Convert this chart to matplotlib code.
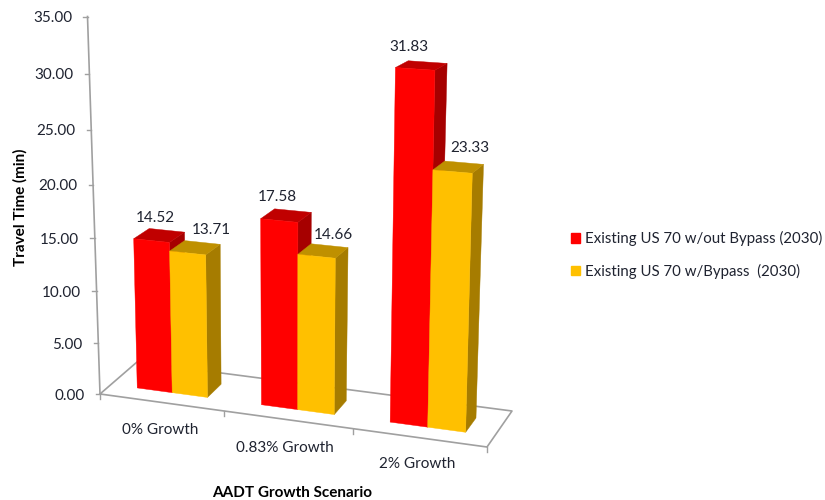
import numpy as np
import matplotlib
matplotlib.use("Agg")
import matplotlib.pyplot as plt
from matplotlib.patches import Polygon, Patch

# data
categories = ["0% Growth", "0.83% Growth", "2% Growth"]
series_names = ["Existing US 70 w/out Bypass (2030)", "Existing US 70 w/Bypass  (2030)"]
without_bypass = [14.52, 17.58, 31.83]
with_bypass = [13.71, 14.66, 23.33]
y_ticks = [0, 5, 10, 15, 20, 25, 30, 35]

# colours: front, top, side
red = ["#ff0000", "#c00000", "#a60000"]
yellow = ["#ffc000", "#bf9000", "#a67c00"]
grey = "#a0a0a0"
ink = "#1f2330"

# pixel position of the eight corners of the chart box
floor = {"fl": (100, 394), "bl": (137, 362), "fr": (487, 447), "br": (512, 411)}
roof = {"fl": (87.5, 16.5), "bl": (131.5, 1), "fr": (498, 41), "br": (526, 26)}
Y_MAX = 35.0
N = len(categories)


def bend(s, k):
    # small perspective correction
    return s / (s + (1 - s) * k)


def project(u, d, z):
    # u = position along categories, d = depth 0..1, z = value
    su = bend(u / N, 1.055)
    t = bend(z / Y_MAX, 1.07)
    out = []
    for i in range(2):
        low = (1 - d) * ((1 - su) * floor["fl"][i] + su * floor["fr"][i]) + d * ((1 - su) * floor["bl"][i] + su * floor["br"][i])
        high = (1 - d) * ((1 - su) * roof["fl"][i] + su * roof["fr"][i]) + d * ((1 - su) * roof["bl"][i] + su * roof["br"][i])
        out.append((1 - t) * low + t * high)
    return out


def draw_bar(ax, u0, u1, value, colours):
    d0, d1 = 0.3, 0.7
    side = [project(u1, d0, 0), project(u1, d1, 0), project(u1, d1, value), project(u1, d0, value)]
    top = [project(u0, d0, value), project(u1, d0, value), project(u1, d1, value), project(u0, d1, value)]
    front = [project(u0, d0, 0), project(u1, d0, 0), project(u1, d0, value), project(u0, d0, value)]
    for poly, c in zip([side, top, front], [colours[2], colours[1], colours[0]]):
        ax.add_patch(Polygon(poly, closed=True, facecolor=c, edgecolor=c, linewidth=0.3, zorder=3))


plt.rcParams["font.family"] = ["Lato", "DejaVu Sans"]
fig = plt.figure(figsize=(8.25, 5), dpi=100)
ax = fig.add_axes([0, 0, 1, 1])
ax.set_xlim(0, 825)
ax.set_ylim(500, 0)
ax.axis("off")

# floor outline
outline = [project(0, 0, 0), project(N, 0, 0), project(N, 1, 0), project(0, 1, 0), project(0, 0, 0)]
ax.plot(*zip(*outline), color=grey, lw=1.2, zorder=1)

# value axis
axis_line = [project(0, 0, 0), project(0, 0, Y_MAX)]
ax.plot(*zip(*axis_line), color=grey, lw=1.2, zorder=1)
for v in y_ticks:
    x, y = project(0, 0, v)
    ax.plot([x - 4.5, x], [y, y], color=grey, lw=1.0, zorder=1)
    ax.text(x - 15.5, y + 1.5, "%.2f" % v, ha="right", va="center", fontsize=11, color=ink)

# category ticks
for i in range(N + 1):
    x, y = project(i, 0, 0)
    ax.plot([x, x], [y, y + 5], color=grey, lw=1.0, zorder=1)

label_pos = [(160, 429.5), (285, 448.5), (417, 463.5)]
for name, (x, y) in zip(categories, label_pos):
    ax.text(x, y, name, ha="center", va="center", fontsize=11, color=ink)

# bars
bar_w = 0.285
label_off = [[(4, -23), (24, -23)], [(-2, -24), (17, -21)], [(-6, -22), (17, -24)]]
for i in range(N):
    left = i + 0.5 - bar_w
    vals = [without_bypass[i], with_bypass[i]]
    for j, (val, col) in enumerate(zip(vals, [red, yellow])):
        draw_bar(ax, left + j * bar_w, left + (j + 1) * bar_w, val, col)
        x, y = project(left + (j + 0.5) * bar_w, 0.3, val)
        ax.text(x + label_off[i][j][0], y + label_off[i][j][1], "%.2f" % val,
                ha="center", va="center", fontsize=11, color=ink, zorder=5)

ax.text(20, 207, "Travel Time (min)", rotation=90, ha="center", va="center",
        fontsize=11, fontweight="bold", color="black")
ax.text(292.5, 493, "AADT Growth Scenario", ha="center", va="center",
        fontsize=11, fontweight="bold", color="black")

handles = [Patch(color=red[0]), Patch(color=yellow[0])]
leg = ax.legend(handles, series_names, loc="center left", bbox_to_anchor=(571 / 825, 1 - 255 / 500),
                frameon=False, fontsize=10.8, handlelength=0.6, handleheight=0.6,
                handletextpad=0.35, labelspacing=1.14, borderpad=0, borderaxespad=0)
for t in leg.get_texts():
    t.set_color(ink)

fig.savefig("out.png", dpi=100)
